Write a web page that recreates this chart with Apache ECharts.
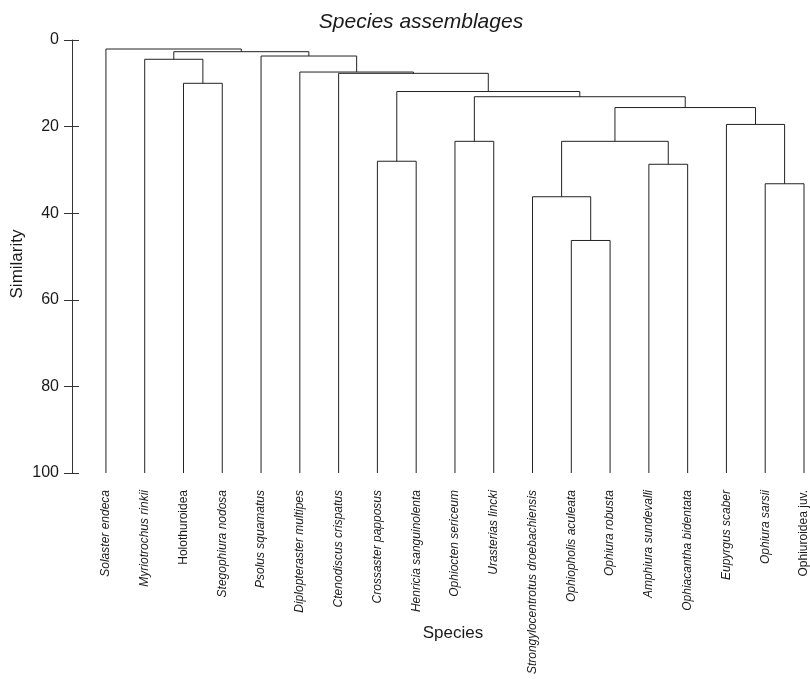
<!DOCTYPE html>
<html>
<head>
<meta charset="utf-8">
<script src="https://cdn.jsdelivr.net/npm/echarts@6/dist/echarts.min.js"></script>
<style>html,body{margin:0;padding:0;background:#fff}#c{width:810px;height:679px}</style>
</head>
<body>
<div id="c"></div>
<script>
// Leaves in display order
const leaves = ["Solaster endeca","Myriotrochus rinkii","Holothuroidea","Stegophiura nodosa","Psolus squamatus","Diplopteraster multipes","Ctenodiscus crispatus","Crossaster papposus","Henricia sanguinolenta","Ophiocten sericeum","Urasterias lincki","Strongylocentrotus droebachiensis","Ophiopholis aculeata","Ophiura robusta","Amphiura sundevalli","Ophiacantha bidentata","Eupyrgus scaber","Ophiura sarsii","Ophiuroidea juv."];
const uprightLabels = ["Holothuroidea","Ophiuroidea juv."];
// Merge table (hclust style): negative = leaf index (1-based, display order), positive = earlier merge (1-based)
const mergeLeft  = [-13, -12, -18, -15, -8, -10, 2, -17, 7, 6, 5, -3, -7, -6, -2, -5, 15, -1];
const mergeRight = [-14,   1, -19, -16, -9, -11, 4,   3, 8, 9, 10, -4, 11, 13, 12, 14, 16, 17];
const mergeHeight = [46.3, 36.2, 33.2, 28.7, 28.0, 23.4, 23.4, 19.5, 15.6, 13.1, 11.9, 10.0, 7.7, 7.4, 4.45, 3.7, 2.7, 2.08];
const yTicks = [0, 20, 40, 60, 80, 100];
const leafHeight = 100;

// Build dendrogram polylines
const pos = [], hgt = [];
function nodeInfo(id) {
  if (id < 0) return [(-id) - 1, leafHeight];
  return [pos[id - 1], hgt[id - 1]];
}
const segs = [];
for (let i = 0; i < mergeLeft.length; i++) {
  const [xl, hl] = nodeInfo(mergeLeft[i]);
  const [xr, hr] = nodeInfo(mergeRight[i]);
  const h = mergeHeight[i];
  segs.push({coords: [[xl, hl], [xl, h], [xr, h], [xr, hr]]});
  pos.push((xl + xr) / 2);
  hgt.push(h);
}

const FONT = '"Liberation Sans", Arial, Helvetica, sans-serif';
const chart = echarts.init(document.getElementById('c'), null, {renderer: 'canvas'});
chart.setOption({
  animation: false,
  backgroundColor: '#ffffff',
  textStyle: {fontFamily: FONT},
  grid: {left: 72, top: 40, width: 736, height: 433},
  xAxis: {
    type: 'value', min: -0.875, max: 18.06,
    axisLine: {show: false, onZero: false}, axisTick: {show: false}, splitLine: {show: false},
    axisLabel: {
      customValues: leaves.map((_, i) => i),
      rotate: 90, margin: 17, color: '#1a1a1a', fontSize: 12, fontFamily: FONT,
      formatter: function (v) {
        const n = leaves[Math.round(v)];
        return (uprightLabels.indexOf(n) >= 0 ? '{n|' : '{i|') + n + '}';
      },
      rich: {
        i: {fontStyle: 'italic', fontSize: 12, fontFamily: FONT, color: '#1a1a1a'},
        n: {fontStyle: 'normal', fontSize: 12, fontFamily: FONT, color: '#1a1a1a'}
      }
    }
  },
  yAxis: [{
    type: 'value', inverse: true, min: 0, max: 100, interval: 20, position: 'left', offset: 0,
    axisLine: {show: true, onZero: false, lineStyle: {color: '#333', width: 1}},
    axisTick: {show: true, length: 8, lineStyle: {color: '#333'}},
    axisLabel: {margin: 13, fontSize: 16, color: '#1a1a1a', fontFamily: FONT,
      customValues: yTicks},
    splitLine: {show: false}
  }, {
    type: 'value', inverse: true, min: 0, max: 100, interval: 20, position: 'left', offset: 0,
    axisLine: {show: false, onZero: false},
    axisTick: {show: true, inside: true, length: 7, lineStyle: {color: '#333'}},
    axisLabel: {show: false},
    splitLine: {show: false}
  }],
  graphic: [
    {type: 'text', x: 421, y: 22, style: {text: 'Species assemblages', font: 'italic 21px ' + FONT, fill: '#1a1a1a', textAlign: 'center', textVerticalAlign: 'middle'}},
    {type: 'text', x: 453, y: 633, style: {text: 'Species', font: '17px ' + FONT, fill: '#1a1a1a', textAlign: 'center', textVerticalAlign: 'middle'}},
    {type: 'text', x: 17, y: 264, rotation: Math.PI / 2, style: {text: 'Similarity', font: '17px ' + FONT, fill: '#1a1a1a', textAlign: 'center', textVerticalAlign: 'middle'}}
  ],
  series: [{
    type: 'lines', coordinateSystem: 'cartesian2d', polyline: true,
    silent: true,
    lineStyle: {color: '#222', width: 1, opacity: 1},
    data: segs
  }]
});
</script>
</body>
</html>
